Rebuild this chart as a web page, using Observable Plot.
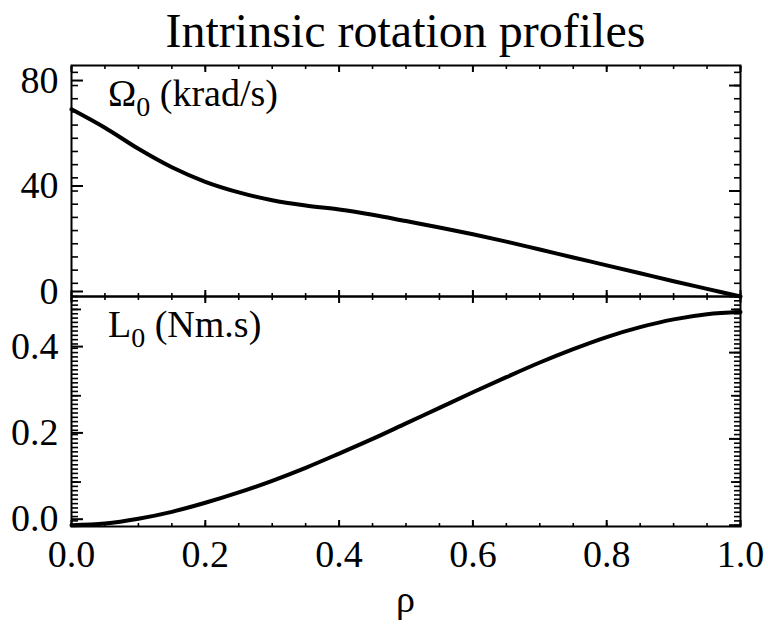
<!DOCTYPE html>
<html>
<head>
<meta charset="utf-8">
<script src="https://cdn.jsdelivr.net/npm/d3@7"></script>
<script src="https://cdn.jsdelivr.net/npm/@observablehq/plot@0.6"></script>
<style>
  html, body { margin: 0; padding: 0; background: white; }
  #wrap { position: relative; width: 768px; height: 631px; overflow: hidden; background: white; }
  #wrap svg { position: absolute; left: 0; }
</style>
</head>
<body>
<div id="wrap"></div>
<script>
// ---- data ----
const rho = [0, 0.05, 0.1, 0.15, 0.2, 0.25, 0.3, 0.35, 0.4, 0.45, 0.5, 0.55, 0.6, 0.65, 0.7, 0.75, 0.8, 0.85, 0.9, 0.95, 1.0];
const omega = [71, 64, 56, 49, 43.5, 39.5, 36.5, 34.5, 33, 31, 28.6, 26.2, 23.6, 20.8, 17.8, 14.8, 11.8, 8.8, 5.8, 2.9, 0];
const angMom = [0, 0.004, 0.015, 0.031, 0.052, 0.076, 0.103, 0.133, 0.166, 0.2, 0.236, 0.272, 0.308, 0.343, 0.377, 0.408, 0.436, 0.459, 0.477, 0.489, 0.494];

const titleText = "Intrinsic rotation profiles";
const xTicks = [0, 0.2, 0.4, 0.6, 0.8, 1.0];
const omegaTicks = [0, 40, 80];
const lTicks = [0.0, 0.2, 0.4];
const lMidTicks = [0.1, 0.3, 0.5];

const xMinor = d3.range(0, 1.0001, 0.05);
const omegaMinor = d3.range(0, 86, 5);
const lMinor = d3.range(0, 0.525, 0.01);

const topData = rho.map((r, i) => ({rho: r, v: omega[i]}));
const botData = rho.map((r, i) => ({rho: r, v: angMom[i]}));

const FONT = "'Liberation Serif', 'Times New Roman', serif";
const FS = 38;
const W = 768, ML = 71, MR = 28;
const blank = () => "";

function frameTicks(yMajor, yMinor, yMid, withXLabels) {
  const m = [
    Plot.frame({stroke: "black", strokeWidth: 2}),
    Plot.axisY(yMinor, {anchor: "left", label: null, tickSize: -7, tickFormat: blank, strokeWidth: 1.6, color: "black"}),
    Plot.axisY(yMinor, {anchor: "right", label: null, tickSize: -7, tickFormat: blank, strokeWidth: 1.6, color: "black"}),
    Plot.axisX(xMinor, {anchor: "top", label: null, tickSize: -3, tickFormat: blank, strokeWidth: 1.6, color: "black"}),
    Plot.axisX(xMinor, {anchor: "bottom", label: null, tickSize: -3, tickFormat: blank, strokeWidth: 1.6, color: "black"}),
    Plot.axisX(xTicks, {anchor: "top", label: null, tickSize: -6, tickFormat: blank, strokeWidth: 2, color: "black"}),
    Plot.axisY(yMajor, {anchor: "right", label: null, tickSize: -12, tickFormat: blank, strokeWidth: 2, color: "black"})
  ];
  if (yMid) {
    m.push(Plot.axisY(yMid, {anchor: "left", label: null, tickSize: -10, tickFormat: blank, strokeWidth: 1.8, color: "black"}));
    m.push(Plot.axisY(yMid, {anchor: "right", label: null, tickSize: -10, tickFormat: blank, strokeWidth: 1.8, color: "black"}));
  }
  if (withXLabels) {
    m.push(Plot.axisX(xTicks, {anchor: "bottom", label: null, tickSize: -6, tickPadding: 20, tickFormat: d3.format(".1f"),
      strokeWidth: 2, fontSize: FS, fontFamily: FONT, color: "black"}));
  } else {
    m.push(Plot.axisX(xTicks, {anchor: "bottom", label: null, tickSize: -6, tickFormat: blank, strokeWidth: 2, color: "black"}));
  }
  return m;
}

// ---- top panel ----
const topPlot = Plot.plot({
  width: W, height: 306,
  marginLeft: ML, marginRight: MR, marginTop: 65, marginBottom: 10,
  style: {background: "transparent", fontFamily: FONT, overflow: "visible", color: "black"},
  x: {domain: [0, 1]},
  y: {domain: [0, 87.6]},
  marks: [
    ...frameTicks(omegaTicks, omegaMinor, null, false),
    Plot.axisY(omegaTicks, {anchor: "left", label: null, tickSize: -12, tickPadding: 25, tickFormat: d3.format("d"),
      strokeWidth: 2, fontSize: FS, fontFamily: FONT, color: "black", dy: -5}),
    Plot.line(topData, {x: "rho", y: "v", stroke: "black", strokeWidth: 4, curve: "catmull-rom"})
  ]
});
topPlot.style.top = "0px";

// ---- bottom panel ----
const botPlot = Plot.plot({
  width: W, height: 345,
  marginLeft: ML, marginRight: MR, marginTop: 10, marginBottom: 105,
  style: {background: "transparent", fontFamily: FONT, overflow: "visible", color: "black"},
  x: {domain: [0, 1]},
  y: {domain: [-0.003, 0.53]},
  marks: [
    ...frameTicks(lTicks, lMinor, lMidTicks, true),
    Plot.axisY(lTicks, {anchor: "left", label: null, tickSize: -12, tickPadding: 25, tickFormat: d3.format(".1f"),
      strokeWidth: 2, fontSize: FS, fontFamily: FONT, color: "black", dy: -6}),
    Plot.line(botData, {x: "rho", y: "v", stroke: "black", strokeWidth: 4, curve: "catmull-rom"})
  ]
});
botPlot.style.top = "286px";

const wrap = document.getElementById("wrap");
wrap.appendChild(topPlot);
wrap.appendChild(botPlot);

// ---- text labels ----
const ts = d3.select(topPlot);
ts.append("text").attr("x", (ML + W - MR) / 2).attr("y", 47).attr("text-anchor", "middle")
  .attr("font-family", FONT).attr("font-size", 48).attr("fill", "black").text(titleText);

function panelLabel(sel, x, y, main, sub, rest) {
  const t = sel.append("text").attr("x", x).attr("y", y).attr("font-family", FONT)
    .attr("text-anchor", "start").attr("font-size", FS).attr("fill", "black");
  t.append("tspan").text(main);
  t.append("tspan").attr("font-size", 28).attr("dy", 10).text(sub);
  t.append("tspan").attr("dy", -10).text(" " + rest);
}
panelLabel(ts, 108, 106, "Ω", "0", "(krad/s)");
const bs = d3.select(botPlot);
panelLabel(bs, 108, 337 - 286, "L", "0", "(Nm.s)");

bs.append("text").attr("x", (ML + W - MR) / 2).attr("y", 612 - 286).attr("text-anchor", "middle")
  .attr("font-family", FONT).attr("font-size", FS).attr("fill", "black").text("ρ");
</script>
</body>
</html>
